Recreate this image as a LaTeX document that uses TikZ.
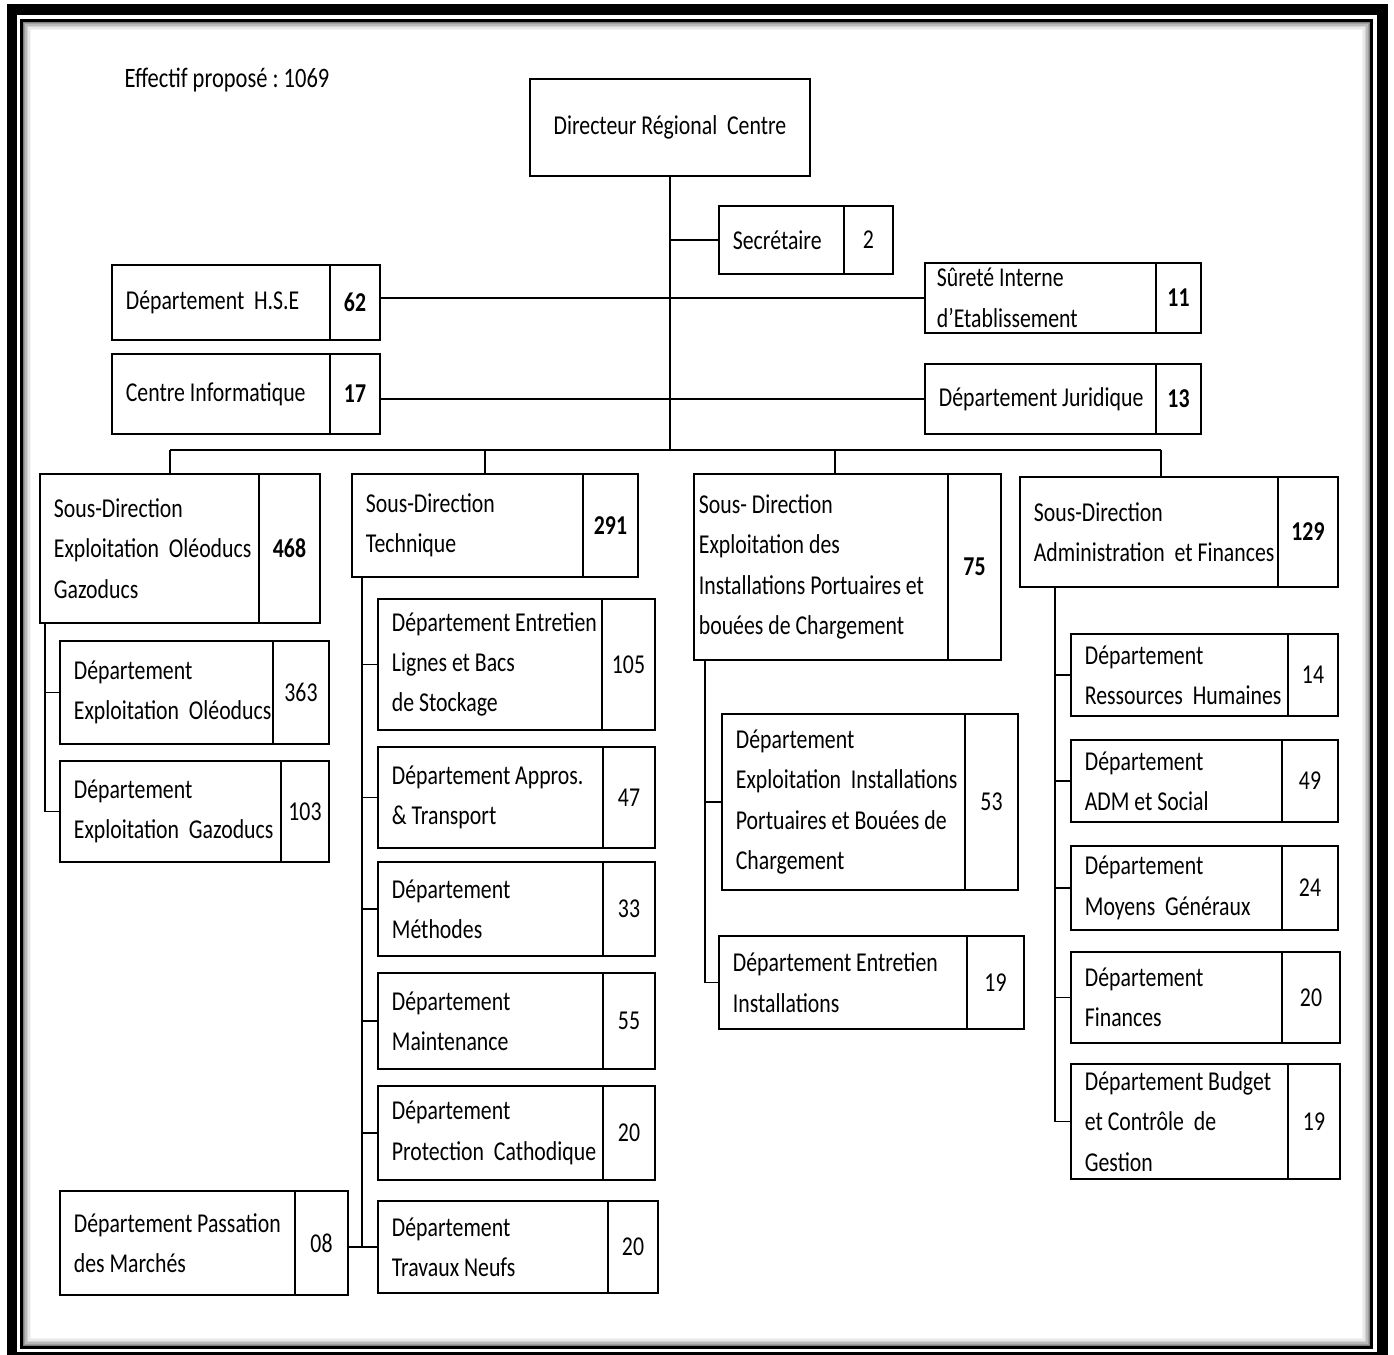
\documentclass[tikz,border=0pt]{standalone}
\usepackage{fontspec}
\setmainfont{Carlito}[FakeStretch=0.8]
\usetikzlibrary{positioning}

% boite : [marge] nom, x1, y1, x separation, x2, y2, texte, effectif
\newcommand{\orgbox}[9][0.26cm]{%
  \pgfmathsetmacro{\boxw}{(#5-#3)*0.02}%
  \pgfmathsetmacro{\numw}{(#6-#5)*0.02}%
  \pgfmathsetmacro{\boxh}{(#7-#4)*0.02}%
  \node[cell, minimum width=\boxw cm, minimum height=\boxh cm] (#2) at (#3,#4) {};
  \node[numcell, minimum width=\numw cm, minimum height=\boxh cm] (#2n) at (#2.north east) {#9};
  \node[txt, right=#1 of #2.west] (#2t) {#8};
}

\begin{document}
\begin{tikzpicture}[x=0.02cm, y=-0.02cm, line width=1pt,
    every node/.style={font=\fontsize{15.5}{23}\selectfont},
    cell/.style={draw, anchor=north west, inner sep=0pt, outer sep=0pt},
    numcell/.style={cell, align=center},
    txt/.style={align=left, inner sep=0pt}]
  \useasboundingbox (0,0) rectangle (1394,1355);
  % cadre
  \draw[line width=0.22cm] (12,10) rectangle (1382,1357);
  \foreach \i/\g in {1/50,2/38,3/27,4/17,5/9,6/4}
    \draw[line width=0.03cm, black!\g] ({21.5+1.5*\i},{20.5+1.5*\i}) rectangle ({1371.5-1.5*\i},{1347.5-1.5*\i});
  \draw[line width=0.06cm] (21.5,20.5) rectangle (1371.5,1347.5);

  \node[anchor=west, font=\fontsize{16}{20}\selectfont] (eff) at (118,80) {Effectif proposé\ :\ 1069};
  \node[cell, minimum width=5.6cm, minimum height=1.94cm] (dir) at (530,79) {Directeur Régional\ \ Centre};

  \orgbox{sec}{719}{206}{844}{893}{274}{Secrétaire}{2}
  \orgbox{hse}{112}{265}{330}{380}{340}{Département\ \ H.S.E}{\textbf{62}}
  \orgbox[0.22cm]{sur}{925}{263}{1156}{1201}{333}{Sûreté Interne\\d’Etablissement}{\textbf{11}}
  \orgbox{ci}{112}{354}{330}{380}{434}{Centre Informatique}{\textbf{17}}
  \orgbox{jur}{925}{364}{1156}{1201}{434}{Département Juridique}{\textbf{13}}

  % sous-directions
  \orgbox{sd1}{40}{474}{259}{320}{623}{Sous-Direction\\Exploitation\ \ Oléoducs\\Gazoducs}{\textbf{468}}
  \orgbox{sd2}{352}{474}{583}{638}{577}{Sous-Direction\\Technique}{\textbf{291}}
  \orgbox[0.08cm]{sd3}{694}{474}{948}{1001}{660}{Sous-\ Direction\\Exploitation des\\Installations Portuaires et\\bouées de Chargement}{\textbf{75}}
  \orgbox{sd4}{1020}{477}{1278}{1338}{587}{Sous-Direction\\Administration\ \ et Finances}{\textbf{129}}

  % departements
  \orgbox{deo}{60}{641}{273}{329}{744}{Département\\Exploitation\ \ Oléoducs}{363}
  \orgbox{deg}{60}{761}{281}{329}{862}{Département\\Exploitation\ \ Gazoducs}{103}
  \orgbox{els}{378}{599}{602}{655}{730}{Département Entretien\\Lignes et Bacs\\de Stockage}{105}
  \orgbox{apt}{378}{747}{603}{655}{848}{Département Appros.\\\& Transport}{47}
  \orgbox{met}{378}{862}{603}{655}{956}{Département\\Méthodes}{33}
  \orgbox{mai}{378}{973}{603}{655}{1069}{Département\\Maintenance}{55}
  \orgbox{pca}{378}{1086}{603}{655}{1180}{Département\\Protection\ \ Cathodique}{20}
  \orgbox{trn}{378}{1201}{608}{658}{1293}{Département\\Travaux Neufs}{20}
  \orgbox{pas}{60}{1191}{295}{348}{1295}{Département Passation\\des Marchés}{08}
  \orgbox{eip}{722}{714}{965}{1018}{890}{Département\\Exploitation\ \ Installations\\Portuaires et Bouées de\\Chargement}{53}
  \orgbox{eni}{719}{936}{967}{1024}{1029}{Département Entretien\\Installations}{19}
  \orgbox{rhu}{1071}{634}{1288}{1338}{716}{Département\\Ressources\ \ Humaines}{14}
  \orgbox{adm}{1071}{740}{1282}{1338}{822}{Département\\ADM et Social}{49}
  \orgbox{mgx}{1071}{846}{1282}{1338}{930}{Département\\Moyens\ \ Généraux}{24}
  \orgbox{fin}{1071}{952}{1282}{1340}{1043}{Département\\Finances}{20}
  \orgbox{bcg}{1071}{1064}{1288}{1340}{1179}{Département Budget\\et Contrôle\ \ de\\Gestion}{19}

  % liaisons
  \coordinate (bus) at (670,450);
  \draw (dir.south) -- (bus);
  \draw (dir.south |- sec.west) -- (sec.west);
  \draw (sur.west -| hsen.east) -- (sur.west);
  \draw (jur.west -| cin.east) -- (jur.west);
  \coordinate (b1) at (170,450);
  \coordinate (b2) at (485,450);
  \coordinate (b3) at (835,450);
  \coordinate (b4) at (1161,450);
  \draw (b1) -- (b4);
  \foreach \b/\s in {b1/sd1, b2/sd2, b3/sd3, b4/sd4}
    \draw (\b) -- (\b |- \s.north);
  \foreach \d in {deo,deg}
    \draw ([xshift=0.1cm]sd1.south west) |- (\d.west);
  \foreach \d in {els,apt,met,mai,pca,trn}
    \draw ([xshift=0.2cm]sd2.south west) |- (\d.west);
  \draw (trn.west -| pasn.east) -- (trn.west);
  \foreach \d in {eip,eni}
    \draw ([xshift=0.22cm]sd3.south west) |- (\d.west);
  \foreach \d in {rhu,adm,mgx,fin,bcg}
    \draw ([xshift=0.7cm]sd4.south west) |- (\d.west);
\end{tikzpicture}
\end{document}
